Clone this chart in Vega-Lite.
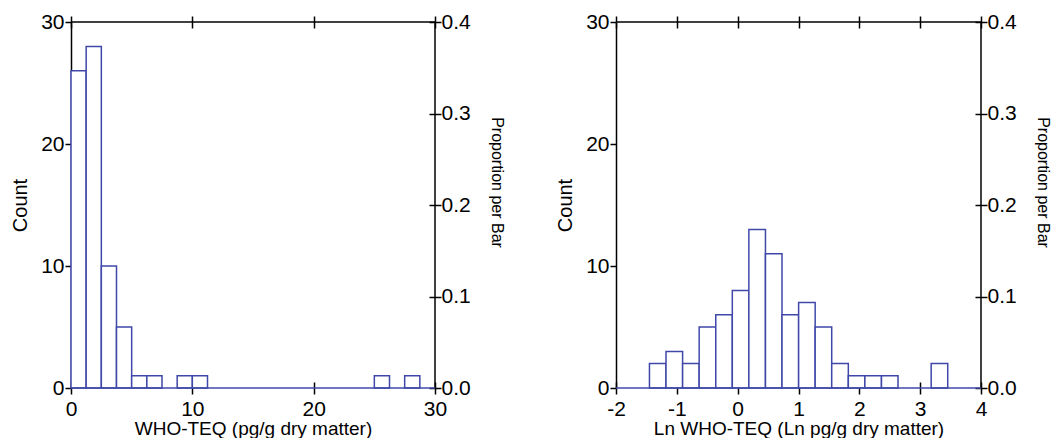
{
  "$schema": "https://vega.github.io/schema/vega-lite/v6.json",
  "padding": {"left": 10, "top": 11, "right": 0, "bottom": 0},
  "background": "white",
  "datasets": {
    "raw": [
      {"start": 0, "end": 1.25, "count": 26},
      {"start": 1.25, "end": 2.5, "count": 28},
      {"start": 2.5, "end": 3.75, "count": 10},
      {"start": 3.75, "end": 5, "count": 5},
      {"start": 5, "end": 6.25, "count": 1},
      {"start": 6.25, "end": 7.5, "count": 1},
      {"start": 8.75, "end": 10, "count": 1},
      {"start": 10, "end": 11.25, "count": 1},
      {"start": 25, "end": 26.25, "count": 1},
      {"start": 27.5, "end": 28.75, "count": 1}
    ],
    "ln": [
      {"start": -1.45, "end": -1.178, "count": 2},
      {"start": -1.178, "end": -0.905, "count": 3},
      {"start": -0.905, "end": -0.633, "count": 2},
      {"start": -0.633, "end": -0.36, "count": 5},
      {"start": -0.36, "end": -0.088, "count": 6},
      {"start": -0.088, "end": 0.184, "count": 8},
      {"start": 0.184, "end": 0.457, "count": 13},
      {"start": 0.457, "end": 0.729, "count": 11},
      {"start": 0.729, "end": 1.002, "count": 6},
      {"start": 1.002, "end": 1.274, "count": 7},
      {"start": 1.274, "end": 1.546, "count": 5},
      {"start": 1.546, "end": 1.819, "count": 2},
      {"start": 1.819, "end": 2.091, "count": 1},
      {"start": 2.091, "end": 2.364, "count": 1},
      {"start": 2.364, "end": 2.636, "count": 1},
      {"start": 3.181, "end": 3.453, "count": 2}
    ],
    "one": [{}]
  },
  "config": {
    "font": "Liberation Sans",
    "view": {"stroke": null},
    "axis": {
      "labelFontSize": 21,
      "labelColor": "#000",
      "titleFontSize": 20,
      "titleFontWeight": "normal",
      "titleColor": "#000",
      "tickColor": "#000",
      "tickWidth": 1.5,
      "domainColor": "#000",
      "domainWidth": 1.5,
      "grid": false,
      "labelFlush": false,
      "labelOverlap": false
    }
  },
  "spacing": 50,
  "hconcat": [
    {
      "width": 364,
      "height": 366,
      "layer": [
        {
          "data": {"name": "one"},
          "mark": {"type": "rule", "color": "#000", "strokeWidth": 1.5},
          "encoding": {
            "y": {"datum": 30, "type": "quantitative", "scale": {"domain": [0, 30]}, "axis": null}
          }
        },
        {
          "data": {"name": "one"},
          "mark": {"type": "rule", "color": "#000", "strokeWidth": 1.5},
          "encoding": {
            "x": {"datum": 30, "type": "quantitative", "scale": {"domain": [0, 30]},
              "axis": {"orient": "top", "offset": -6, "tickSize": 12, "domain": false, "labels": false, "title": null, "values": [0, 10, 20, 30]}}
          }
        },
        {
          "data": {"name": "raw"},
          "mark": {"type": "bar", "fill": "white", "stroke": "#3f48a9", "strokeWidth": 1.5},
          "encoding": {
            "x": {"field": "start", "type": "quantitative", "scale": {"domain": [0, 30]},
              "axis": {"orient": "bottom", "offset": -6, "tickSize": 12, "domain": false, "labelPadding": 4, "values": [0, 10, 20, 30], "title": "WHO-TEQ (pg/g dry matter)", "titleFontSize": 19, "titlePadding": 0}},
            "x2": {"field": "end"},
            "y": {"field": "count", "type": "quantitative", "stack": null, "scale": {"domain": [0, 30]},
              "axis": {"orient": "left", "tickSize": 6, "labelPadding": 1, "values": [0, 10, 20, 30], "title": "Count", "titlePadding": 10}},
            "y2": {"datum": 0}
          }
        },
        {
          "data": {"name": "one"},
          "mark": {"type": "rule", "color": "#3f48a9", "strokeWidth": 1.5},
          "encoding": {
            "y": {"datum": 0, "type": "quantitative", "scale": {"domain": [0, 0.4]},
              "axis": {"orient": "right", "offset": -6, "tickSize": 12, "domain": false, "labelPadding": 0, "format": ".1f", "values": [0, 0.1, 0.2, 0.3, 0.4], "title": "Proportion per Bar", "titleFontSize": 16, "titlePadding": 18, "titleY": 160}}
          }
        }
      ],
      "resolve": {"scale": {"x": "independent", "y": "independent"}, "axis": {"x": "independent", "y": "independent"}}
    },
    {
      "width": 365,
      "height": 366,
      "layer": [
        {
          "data": {"name": "one"},
          "mark": {"type": "rule", "color": "#000", "strokeWidth": 1.5},
          "encoding": {
            "y": {"datum": 30, "type": "quantitative", "scale": {"domain": [0, 30]}, "axis": null}
          }
        },
        {
          "data": {"name": "one"},
          "mark": {"type": "rule", "color": "#000", "strokeWidth": 1.5},
          "encoding": {
            "x": {"datum": 4, "type": "quantitative", "scale": {"domain": [-2, 4]},
              "axis": {"orient": "top", "offset": -6, "tickSize": 12, "domain": false, "labels": false, "title": null, "values": [-2, -1, 0, 1, 2, 3, 4]}}
          }
        },
        {
          "data": {"name": "ln"},
          "mark": {"type": "bar", "fill": "white", "stroke": "#3f48a9", "strokeWidth": 1.5},
          "encoding": {
            "x": {"field": "start", "type": "quantitative", "scale": {"domain": [-2, 4]},
              "axis": {"orient": "bottom", "offset": -6, "tickSize": 12, "domain": false, "labelPadding": 4, "values": [-2, -1, 0, 1, 2, 3, 4], "labelExpr": "replace(datum.label, '\u2212', '-')", "title": "Ln WHO-TEQ (Ln pg/g dry matter)", "titleFontSize": 19, "titlePadding": 0}},
            "x2": {"field": "end"},
            "y": {"field": "count", "type": "quantitative", "stack": null, "scale": {"domain": [0, 30]},
              "axis": {"orient": "left", "tickSize": 6, "labelPadding": 1, "values": [0, 10, 20, 30], "title": "Count", "titlePadding": 10}},
            "y2": {"datum": 0}
          }
        },
        {
          "data": {"name": "one"},
          "mark": {"type": "rule", "color": "#3f48a9", "strokeWidth": 1.5},
          "encoding": {
            "y": {"datum": 0, "type": "quantitative", "scale": {"domain": [0, 0.4]},
              "axis": {"orient": "right", "offset": -6, "tickSize": 12, "domain": false, "labelPadding": 0, "format": ".1f", "values": [0, 0.1, 0.2, 0.3, 0.4], "title": "Proportion per Bar", "titleFontSize": 16, "titlePadding": 18, "titleY": 160}}
          }
        }
      ],
      "resolve": {"scale": {"x": "independent", "y": "independent"}, "axis": {"x": "independent", "y": "independent"}}
    }
  ]
}
